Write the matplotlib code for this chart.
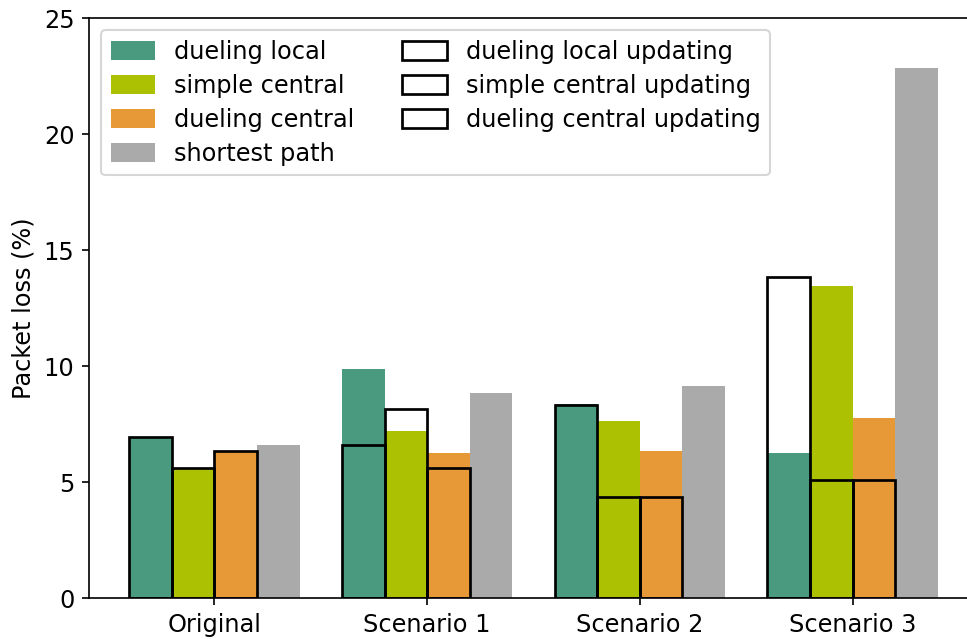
import numpy as np
import matplotlib
matplotlib.use("Agg")
import matplotlib.pyplot as plt

scenarios = ["Original", "Scenario 1", "Scenario 2", "Scenario 3"]

dueling_local = [6.95, 9.85, 8.37, 6.25]
simple_central = [5.6, 7.2, 7.65, 13.45]
dueling_central = [6.35, 6.25, 6.35, 7.75]
shortest_path = [6.6, 8.85, 9.15, 22.85]

dueling_local_updating = [6.95, 6.6, 8.33, 13.85]
simple_central_updating = [5.6, 8.15, 4.35, 5.07]
dueling_central_updating = [6.35, 5.6, 4.35, 5.07]

colors = {
    "dueling local": "#4a9a80",
    "simple central": "#adc103",
    "dueling central": "#e79937",
    "shortest path": "#aaaaaa",
}

plt.rcParams["font.family"] = "DejaVu Sans"
plt.rcParams["font.size"] = 11.5

fig = plt.figure(figsize=(967 / 150, 639 / 150), dpi=150)
ax = fig.add_axes([89 / 967, 41 / 639, 889 / 967, 580 / 639])

x = np.arange(len(scenarios))
w = 0.2
offsets = [-0.3, -0.1, 0.1, 0.3]

filled = [
    ("dueling local", dueling_local),
    ("simple central", simple_central),
    ("dueling central", dueling_central),
    ("shortest path", shortest_path),
]
handles = []
for off, (name, vals) in zip(offsets, filled):
    h = ax.bar(x + off, vals, w, color=colors[name], label=name, linewidth=0)
    handles.append(h)

outlined = [
    ("dueling local updating", dueling_local_updating),
    ("simple central updating", simple_central_updating),
    ("dueling central updating", dueling_central_updating),
]
for off, (name, vals) in zip(offsets[:3], outlined):
    h = ax.bar(x + off, vals, w, facecolor="none", edgecolor="black",
               linewidth=1.3, label=name)
    handles.append(h)

ax.set_xticks(x)
ax.set_xticklabels(scenarios)
ax.set_xlim(-0.59, 3.59)
ax.set_ylim(0, 25)
ax.set_yticks([0, 5, 10, 15, 20, 25])
ax.set_ylabel("Packet loss (%)")

ax.legend(handles=handles, ncol=2, loc="upper left", handleheight=0.85,
          handlelength=1.85, labelspacing=0.42)

fig.savefig("out.png", dpi=150)
